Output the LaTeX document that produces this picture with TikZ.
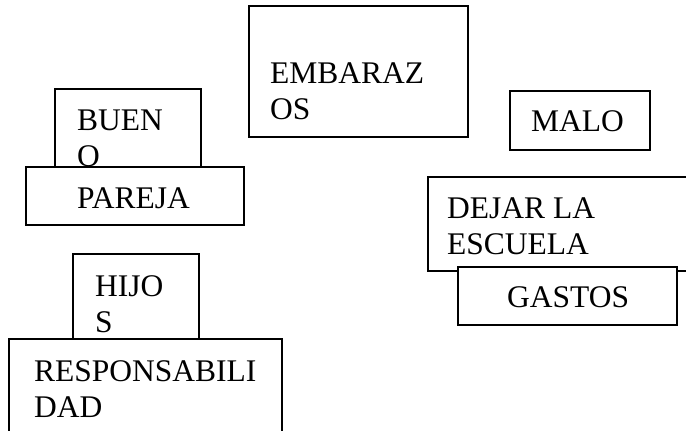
\documentclass[tikz,border=0pt]{standalone}
\usepackage{fontspec}
\setmainfont{Liberation Serif}
\begin{document}
\begin{tikzpicture}[x=1pt,y=-1pt,
  box/.style={draw=black, line width=1.2pt, fill=white, anchor=north west,
    inner sep=0pt, outer sep=0pt},
  lbl/.style={anchor=base west, inner sep=0pt, align=left,
    font=\fontsize{31.5}{36}\selectfont}]
\useasboundingbox (0,0) rectangle (686,431);
\clip (0,0) rectangle (686,431);

% central topic (labels are placed by the baseline of their last line)
\node[box, minimum width=219pt, minimum height=131pt] (emb) at (249,6) {};
\node[lbl] (embtxt) at (270,119) {EMBARAZ\\OS};

% right branch
\node[box, minimum width=140pt, minimum height=59pt] (malo) at (510,91) {};
\node[lbl] (malotxt) at (531,131) {MALO};

\node[box, minimum width=280pt, minimum height=94pt] (dejar) at (428,177) {};
\node[lbl] (dejartxt) at (447,254) {DEJAR LA\\ESCUELA};

\node[box, minimum width=219pt, minimum height=58pt] (gastos) at (458,267) {};
\node[lbl] (gastostxt) at (507,307) {GASTOS};

% left branch
\node[box, minimum width=146pt, minimum height=78pt] (bueno) at (55,89) {};
\node[lbl] (buenotxt) at (77,166) {BUEN\\O};

\node[box, minimum width=218pt, minimum height=58pt] (pareja) at (26,167) {};
\node[lbl] (parejatxt) at (77,208) {PAREJA};

\node[box, minimum width=126pt, minimum height=85pt] (hijos) at (73,254) {};
\node[lbl] (hijostxt) at (95,332) {HIJO\\S};

\node[box, minimum width=273pt, minimum height=110pt] (resp) at (9,339) {};
\node[lbl] (resptxt) at (34,417) {RESPONSABILI\\DAD};
\end{tikzpicture}
\end{document}
